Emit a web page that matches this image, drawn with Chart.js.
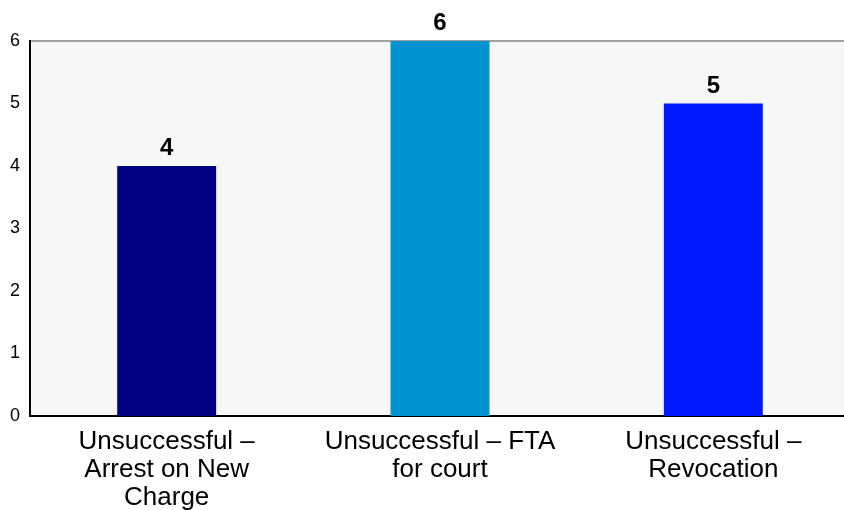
<!DOCTYPE html>
<html>
<head>
<meta charset="utf-8">
<script src="https://cdn.jsdelivr.net/npm/chart.js@4"></script>
<style>
  html, body { margin: 0; padding: 0; background: #fff; }
  /* plot runs a few pixels past the right edge, so the canvas is wider than the view */
  #wrap { width: 844px; height: 510px; overflow: hidden; }
</style>
</head>
<body>
<div id="wrap"><canvas id="myChart" width="850" height="510"></canvas></div>
<script>
const categories = [
  ['Unsuccessful \u2013', 'Arrest on New', 'Charge'],
  ['Unsuccessful \u2013 FTA', 'for court'],
  ['Unsuccessful \u2013', 'Revocation']
];
const counts = [4, 6, 5];
const barColors = ['#000080', '#0091cf', '#0019ff'];

const FONT = "'Liberation Sans', Arial, sans-serif";

// plot background + thin grey line along the top edge
const plotBackground = {
  id: 'plotBackground',
  beforeDraw(chart) {
    const { ctx, chartArea: { top, bottom, left, right } } = chart;
    ctx.save();
    ctx.fillStyle = '#f7f7f7';
    ctx.fillRect(left, top, right - left, bottom - top);
    ctx.strokeStyle = '#808080';
    ctx.lineWidth = 1.5;
    ctx.beginPath();
    ctx.moveTo(left, top);
    ctx.lineTo(right, top);
    ctx.stroke();
    ctx.restore();
  }
};

// value labels above each bar
const valueLabels = {
  id: 'valueLabels',
  afterDatasetsDraw(chart) {
    const { ctx } = chart;
    const meta = chart.getDatasetMeta(0);
    ctx.save();
    ctx.font = 'bold 24px ' + FONT;
    ctx.fillStyle = '#000';
    ctx.textAlign = 'center';
    ctx.textBaseline = 'alphabetic';
    meta.data.forEach((bar, i) => {
      ctx.fillText(String(counts[i]), bar.x, bar.y - 11);
    });
    ctx.restore();
  }
};

new Chart(document.getElementById('myChart'), {
  type: 'bar',
  data: {
    labels: categories,
    datasets: [{
      data: counts,
      backgroundColor: barColors,
      borderWidth: 0,
      barPercentage: 0.362,
      categoryPercentage: 1
    }]
  },
  options: {
    responsive: false,
    animation: false,
    layout: { padding: { top: 41, left: 0, right: 0, bottom: 0 } },
    plugins: {
      legend: { display: false },
      tooltip: { enabled: false },
      title: { display: false }
    },
    scales: {
      x: {
        grid: { display: false, drawTicks: false },
        border: { display: true, color: '#000', width: 2 },
        afterFit(scale) {
          scale.height = 94;
        },
        ticks: {
          color: '#000',
          font: { family: FONT, size: 26, lineHeight: 1.08 },
          padding: 12,
          maxRotation: 0,
          autoSkip: false
        }
      },
      y: {
        min: 0,
        max: 6,
        grid: { display: false, drawTicks: false },
        border: { display: true, color: '#000', width: 2 },
        ticks: {
          stepSize: 1,
          color: '#000',
          font: { family: FONT, size: 18 },
          padding: 10
        }
      }
    }
  },
  plugins: [plotBackground, valueLabels]
});
</script>
</body>
</html>
